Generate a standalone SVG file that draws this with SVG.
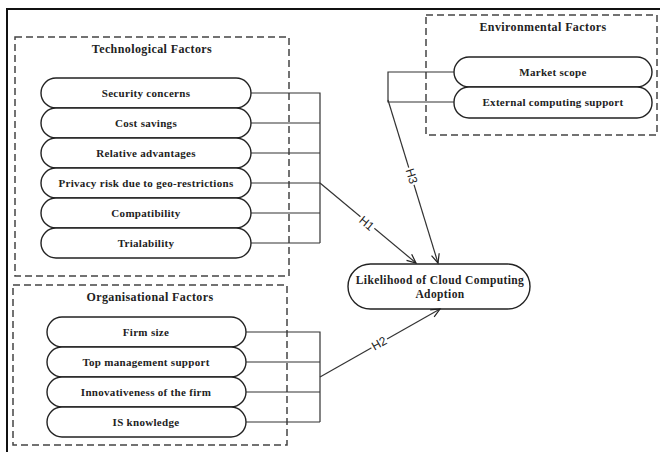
<svg xmlns="http://www.w3.org/2000/svg" width="660" height="452" viewBox="0 0 660 452">
<defs>
<marker id="arr" markerWidth="12" markerHeight="10" refX="10" refY="5" orient="auto" markerUnits="userSpaceOnUse">
<path d="M1,1 L10,5 L1,9" fill="none" stroke="#222" stroke-width="1.2"/>
</marker>
<style>
.frame{fill:none;stroke:#111;stroke-width:2}
.grp{fill:none;stroke:#444;stroke-width:1.5;stroke-dasharray:7,4}
.pill{fill:#fff;stroke:#222;stroke-width:1.4}
.t{font-family:"Liberation Serif","Times New Roman",serif;font-weight:bold;font-size:11px;fill:#222;text-anchor:middle;letter-spacing:0.3px}
.h{font-family:"Liberation Serif","Times New Roman",serif;font-weight:bold;font-size:12px;fill:#222;text-anchor:middle;letter-spacing:0.4px}
.big{font-size:11.5px;letter-spacing:0.4px}
.c{fill:none;stroke:#333;stroke-width:1.2}
.lbl{font-family:"Liberation Sans",Arial,sans-serif;font-size:12px;fill:#222;text-anchor:middle}
</style>
</defs>
<rect class="frame" x="7" y="9" width="700" height="500"/>

<g id="technological">
<rect class="grp" x="15" y="37" width="274" height="239"/>
<text class="h" x="152" y="53">Technological Factors</text>
</g>
<g id="security"><rect class="pill" x="41" y="78" width="210" height="30" rx="15"/><text class="t" x="146" y="97">Security concerns</text></g>
<g id="cost"><rect class="pill" x="41" y="108" width="210" height="30" rx="15"/><text class="t" x="146" y="127">Cost savings</text></g>
<g id="relative"><rect class="pill" x="41" y="138" width="210" height="30" rx="15"/><text class="t" x="146" y="157">Relative advantages</text></g>
<g id="privacy"><rect class="pill" x="41" y="168" width="210" height="30" rx="15"/><text class="t" x="146" y="187">Privacy risk due to geo-restrictions</text></g>
<g id="compat"><rect class="pill" x="41" y="198" width="210" height="30" rx="15"/><text class="t" x="146" y="217">Compatibility</text></g>
<g id="trial"><rect class="pill" x="41" y="228" width="210" height="30" rx="15"/><text class="t" x="146" y="247">Trialability</text></g>

<g id="organisational">
<rect class="grp" x="13" y="285" width="274" height="160"/>
<text class="h" x="150" y="301">Organisational Factors</text>
</g>
<g id="firmsize"><rect class="pill" x="47" y="317" width="199" height="30" rx="15"/><text class="t" x="146" y="336">Firm size</text></g>
<g id="topmgmt"><rect class="pill" x="47" y="347" width="199" height="30" rx="15"/><text class="t" x="146" y="366">Top management support</text></g>
<g id="innov"><rect class="pill" x="47" y="377" width="199" height="30" rx="15"/><text class="t" x="146" y="396">Innovativeness of the firm</text></g>
<g id="isknow"><rect class="pill" x="47" y="407" width="199" height="30" rx="15"/><text class="t" x="146" y="426">IS knowledge</text></g>

<g id="environmental">
<rect class="grp" x="426" y="15" width="231" height="120"/>
<text class="h" x="543" y="31">Environmental Factors</text>
</g>
<g id="market"><rect class="pill" x="454" y="57" width="198" height="30" rx="15"/><text class="t" x="553" y="76">Market scope</text></g>
<g id="external"><rect class="pill" x="454" y="87" width="198" height="31" rx="15"/><text class="t" x="553" y="106">External computing support</text></g>

<g id="likelihood"><rect class="pill" x="348" y="264" width="182" height="45" rx="22.5"/>
<text class="t big" x="440" y="284">Likelihood of Cloud  Computing</text>
<text class="t big" x="440" y="298">Adoption</text></g>

<g id="connectors">
<path class="c" d="M251,93 H320 V243 M251,123 H320 M251,153 H320 M251,183 H320 M251,213 H320 M251,243 H320"/>
<path class="c" d="M246,332 H320 V422 M246,362 H320 M246,392 H320 M246,422 H320"/>
<path class="c" d="M454,72 H388 V102 H454"/>
<path class="c" d="M320,183 L416,263" marker-end="url(#arr)"/>
<path class="c" d="M388,100 L438,263" marker-end="url(#arr)"/>
<path class="c" d="M320,377 L440,309" marker-end="url(#arr)"/>
<g transform="translate(367,223) rotate(40)"><rect x="-9" y="-7" width="18" height="14" fill="#fff"/><text class="lbl" x="0" y="4.5">H1</text></g>
<g transform="translate(412,176) rotate(73)"><rect x="-9" y="-7" width="18" height="14" fill="#fff"/><text class="lbl" x="0" y="4.5">H3</text></g>
<g transform="translate(379,343) rotate(-29.5)"><rect x="-9" y="-7" width="18" height="14" fill="#fff"/><text class="lbl" x="0" y="4.5">H2</text></g>
</g>
</svg>
